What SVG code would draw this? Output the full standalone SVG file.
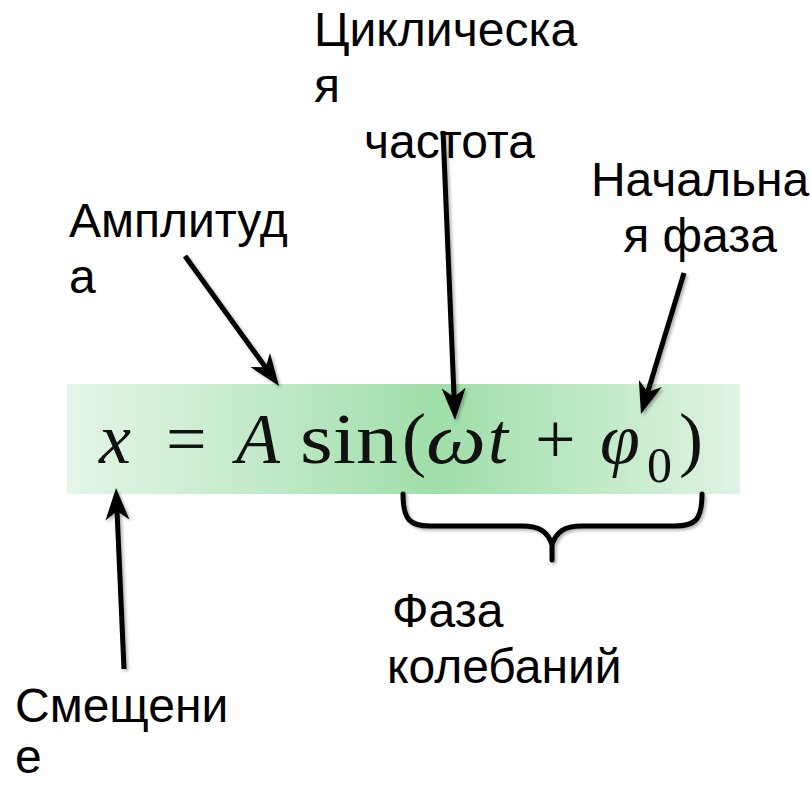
<svg xmlns="http://www.w3.org/2000/svg" width="811" height="785" viewBox="0 0 811 785">
<defs>
<style>
.lbl{font-family:"Liberation Sans",Arial,sans-serif;font-size:48px;fill:#000}
.f{font-family:"Liberation Serif","Times New Roman",serif;font-size:72px;fill:#111}
.fi{font-style:italic}
.ar{stroke:#000;stroke-width:5;fill:none;marker-end:url(#ah)}
.br{stroke:#000;stroke-width:5;fill:none;stroke-linecap:round;stroke-linejoin:round}
</style>
<linearGradient id="g" x1="0" y1="0" x2="1" y2="0">
<stop offset="0" stop-color="#e4f5e7"/>
<stop offset="0.3" stop-color="#c0e9c7"/>
<stop offset="0.55" stop-color="#9fdea9"/>
<stop offset="0.8" stop-color="#c2eac8"/>
<stop offset="1" stop-color="#e0f3e3"/>
</linearGradient>
<filter id="sh" x="-20%" y="-20%" width="140%" height="140%">
<feDropShadow dx="2" dy="2" stdDeviation="1.5" flood-color="#000" flood-opacity="0.3"/>
</filter>
<marker id="ah" markerUnits="userSpaceOnUse" viewBox="0 0 32 24" markerWidth="32" markerHeight="24" refX="14" refY="12" orient="auto">
<path d="M0,0 L32,12 L0,24 L9,12 Z" fill="#000"/>
</marker>
</defs>
<rect width="811" height="785" fill="#fff"/>
<g id="formula">
<rect x="67" y="384" width="673" height="110" fill="url(#g)"/>
<text class="f fi" x="99" y="463">x</text>
<text class="f" x="166" y="463">=</text>
<text class="f fi" x="236" y="463">A</text>
<text class="f" x="300" y="463" textLength="98" lengthAdjust="spacingAndGlyphs">sin</text>
<text class="f" x="402" y="463">(</text>
<text class="f fi" x="426" y="463" textLength="60" lengthAdjust="spacingAndGlyphs">ω</text>
<text class="f fi" x="488" y="463">t</text>
<text class="f" x="535" y="463">+</text>
<text class="f fi" x="600" y="463">φ</text>
<text class="f" x="647" y="482" style="font-size:50px">0</text>
<text class="f" x="679" y="463">)</text>
</g>
<g id="connectors" filter="url(#sh)">
<line class="ar" x1="185" y1="256" x2="268.5" y2="371.4"/>
<line class="ar" x1="443" y1="131" x2="454.25" y2="402"/>
<line class="ar" x1="684" y1="273" x2="646.25" y2="396.8"/>
<line class="ar" x1="124" y1="669" x2="116.8" y2="506"/>
<path class="br" d="M403,494 C403,520 410,526 430,526 L522,526 C540,526 548,532 552,545 C556,532 564,526 582,526 L675,526 C695,526 702,520 702,494 M552,545 L552,560"/>
</g>
<g id="cyclic">
<text class="lbl" x="314" y="46">Циклическа</text>
<text class="lbl" x="314" y="102">я</text>
<text class="lbl" x="364" y="158">частота</text>
</g>
<g id="initial-phase">
<text class="lbl" x="700" y="196" text-anchor="middle">Начальна</text>
<text class="lbl" x="700" y="252" text-anchor="middle">я фаза</text>
</g>
<g id="amplitude">
<text class="lbl" x="69" y="237">Амплитуд</text>
<text class="lbl" x="69" y="293">а</text>
</g>
<g id="displacement">
<text class="lbl" x="15" y="722">Смещени</text>
<text class="lbl" x="15" y="773">е</text>
</g>
<g id="phase">
<text class="lbl" x="392" y="627">Фаза</text>
<text class="lbl" x="387" y="683">колебаний</text>
</g>
</svg>
